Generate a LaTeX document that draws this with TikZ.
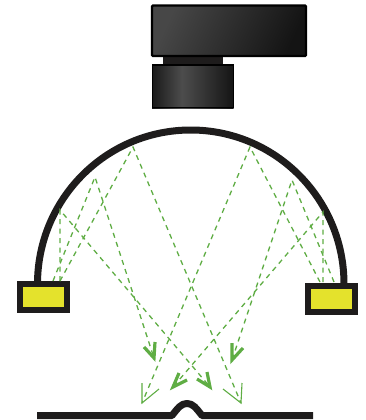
\documentclass[tikz,border=0pt]{standalone}
\usetikzlibrary{calc}
\definecolor{ink}{HTML}{1E1C1C}
\definecolor{ray}{HTML}{5FAD44}
\definecolor{lamp}{HTML}{E4E22C}
\tikzset{
  ray line/.style={draw=ray,line width=1.3pt,dash pattern=on 5pt off 4.5pt},
  thin head/.style={draw=ray,line width=1.1pt,fill=none,miter limit=10},
  thick head/.style={draw=ray,line width=3.2pt,fill=none,miter limit=10},
  lamp box/.style={draw=ink,line width=6pt,fill=lamp,minimum width=47pt,minimum height=26pt,inner sep=0pt,outer sep=0pt},
}
\begin{document}
\begin{tikzpicture}[x=1pt,y=-1pt]
\useasboundingbox (0,0) rectangle (365,420);
% camera
\fill[ink] (162.5,54) rectangle (222.5,65);
\draw[black,line width=2.2pt,top color=black!72,bottom color=black!92,shading angle=65,rounded corners=1pt] (152,5.5) rectangle (306,56);
\begin{scope}
\clip (152,65) rectangle (233.5,108);
\shade[left color=black!90,right color=black!70] (152,65) rectangle (182,108);
\shade[left color=black!70,right color=black!92] (182,65) rectangle (233.5,108);
\end{scope}
\draw[black,line width=1.6pt] (152.5,65) rectangle (233.5,107.5);
% dome
\coordinate (domeL) at (37.5,284);
\coordinate (domeR) at (344,284);
\draw[ink,line width=7pt] (domeL) arc[start angle=180,end angle=360,x radius=153.25,y radius=154];
% lamps
\node[lamp box] (lampL) at (43.5,297) {};
\node[lamp box] (lampR) at (331.5,299) {};
% surface
\coordinate (surfL) at (37,415.5);
\coordinate (surfR) at (313,415.5);
\draw[ink,line width=7pt,line join=round] (surfL) -- (172,415.5) .. controls (178,408) and (181,403.5) .. (187,403.5) .. controls (193,403.5) and (196,408) .. (202,415.5) -- (surfR);
% ray points
\coordinate (a0) at (60,281);
\coordinate (a1) at (60,210);
\coordinate (a2) at (210,387);
\coordinate (b0) at (53,281);
\coordinate (b1) at (95,177);
\coordinate (b2) at (154,358);
\coordinate (c0) at (60,281);
\coordinate (c1) at (133,147);
\coordinate (c2) at (241,403);
\coordinate (d0) at (323,282);
\coordinate (d1) at (323,212);
\coordinate (d2) at (173,387);
\coordinate (e0) at (334,282);
\coordinate (e1) at (292,180);
\coordinate (e2) at (232,360);
\coordinate (f0) at (320,282);
\coordinate (f1) at (250,147);
\coordinate (f2) at (142,403);
\draw[ray line] (a0) -- (a1) -- (a2);
\draw[ray line] (b0) -- (b1) -- (b2);
\draw[ray line] (c0) -- (c1) -- (c2);
\draw[ray line] (d0) -- (d1) -- (d2);
\draw[ray line] (e0) -- (e1) -- (e2);
\draw[ray line] (f0) -- (f1) -- (f2);
% arrow heads
\draw[thin head] (142,383) -- (f2) -- (159,389);
\draw[thin head] (242,383) -- (c2) -- (223,389);
\draw[thick head] (144,347) -- (b2) -- (155,342);
\draw[thick head] (232,343) -- (e2) -- (243,348);
\draw[thick head] (187,380) -- (d2) -- (179,373);
\draw[thick head] (197,379) -- (a2) -- (207,372);
\end{tikzpicture}
\end{document}
